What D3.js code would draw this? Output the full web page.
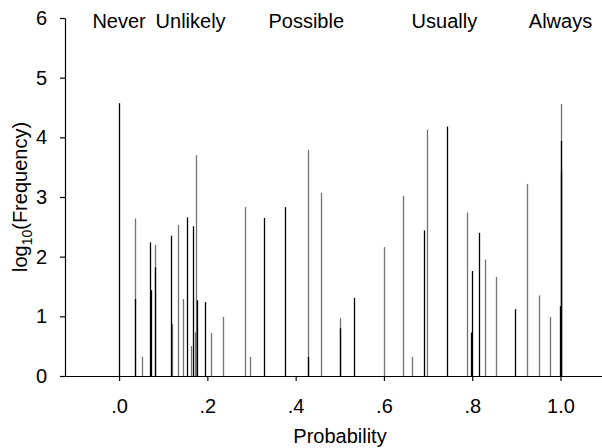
<!DOCTYPE html>
<html>
<head>
<meta charset="utf-8">
<script src="https://cdn.jsdelivr.net/npm/d3@7"></script>
<style>
  body { margin: 0; background: #fff; }
  text { font-family: "Liberation Sans", Arial, sans-serif; }
</style>
</head>
<body>
<svg width="602" height="448"></svg>
<script>
// gray spikes (probability, log10 frequency)
const grayProb = [0.037, 0.053, 0.082, 0.120, 0.133, 0.144, 0.162, 0.171, 0.174, 0.209, 0.235,
  0.286, 0.296, 0.428, 0.457, 0.500, 0.600, 0.643, 0.663, 0.697, 0.788, 0.829, 0.854,
  0.923, 0.951, 0.976, 1.000];
const grayLogFreq = [2.64, 0.32, 2.20, 0.87, 2.53, 1.29, 0.50, 0.73, 3.70, 0.72, 0.99,
  2.83, 0.32, 3.79, 3.07, 0.97, 2.16, 3.02, 0.32, 4.13, 2.74, 1.95, 1.66,
  3.22, 1.35, 0.99, 4.56];

// black spikes drawn on top
const blackProb = [0.000, 0.037, 0.070, 0.073, 0.081, 0.118, 0.154, 0.167, 0.177, 0.195,
  0.329, 0.377, 0.429, 0.500, 0.533, 0.691, 0.742, 0.797, 0.799, 0.815, 0.898,
  1.000, 1.001, 0.999];
const blackLogFreq = [4.57, 1.29, 2.24, 1.44, 1.82, 2.35, 2.66, 2.51, 1.27, 1.24,
  2.65, 2.83, 0.32, 0.80, 1.31, 2.44, 4.18, 0.73, 1.76, 2.40, 1.12,
  3.94, 3.41, 1.17];

const xTicks = [0, 0.2, 0.4, 0.6, 0.8, 1.0];
const yTicks = [0, 1, 2, 3, 4, 5, 6];
const labels = ["Never", "Unlikely", "Possible", "Usually", "Always"];
const labelProb = [0, 0.162, 0.424, 0.737, 1.0];

const svg = d3.select('svg');
const plotLeft = 65, plotRight = 602, plotTop = 18, plotBottom = 376;
const fontSize = 20;

const x = d3.scaleLinear().domain([-0.1225, 1.094]).range([plotLeft, plotRight]);
const y = d3.scaleLinear().domain([0, 6]).range([plotBottom, plotTop]);

// spikes, snapped to the pixel grid so they stay crisp
function spikes(probs, vals, color) {
  svg.append('g').selectAll('line')
    .data(d3.zip(probs, vals))
    .join('line')
    .attr('x1', d => Math.round(x(d[0])) + 0.5)
    .attr('x2', d => Math.round(x(d[0])) + 0.5)
    .attr('y1', y(0)).attr('y2', d => y(d[1]))
    .attr('stroke', color)
    .attr('stroke-width', 1.3);
}
spikes(grayProb, grayLogFreq, '#727272');
spikes(blackProb, blackLogFreq, '#000');

// axes
const xAxis = svg.append('g')
  .attr('transform', `translate(0, ${plotBottom})`)
  .call(d3.axisBottom(x).tickValues(xTicks).tickSizeInner(5).tickSizeOuter(0).tickPadding(18)
    .tickFormat(d => d === 1 ? '1.0' : d3.format('.1f')(d).replace(/^0/, '')));

const yAxis = svg.append('g')
  .attr('transform', `translate(${plotLeft}, 0)`)
  .call(d3.axisLeft(y).tickValues(yTicks).tickFormat(d3.format('d'))
    .tickSizeInner(5).tickSizeOuter(0).tickPadding(13));

[xAxis, yAxis].forEach(a => {
  a.selectAll('path, line').attr('stroke', '#000').attr('stroke-width', 1.2);
  a.selectAll('text').attr('font-size', fontSize).attr('fill', '#000')
    .attr('font-family', '"Liberation Sans", Arial, sans-serif');
});

// category labels along the top
svg.append('g').selectAll('text')
  .data(labels)
  .join('text')
  .attr('x', (d, i) => x(labelProb[i]))
  .attr('y', 28)
  .attr('text-anchor', 'middle')
  .attr('font-size', fontSize)
  .text(d => d);

// axis titles
svg.append('text')
  .attr('x', 340).attr('y', 443)
  .attr('text-anchor', 'middle')
  .attr('font-size', fontSize)
  .text('Probability');

const yt = svg.append('text')
  .attr('transform', 'translate(27, 197) rotate(-90)')
  .attr('text-anchor', 'middle')
  .attr('font-size', fontSize);
yt.append('tspan').text('log');
yt.append('tspan').attr('font-size', 14).attr('dy', 5).text('10');
yt.append('tspan').attr('dy', -5).text('(Frequency)');
</script>
</body>
</html>
